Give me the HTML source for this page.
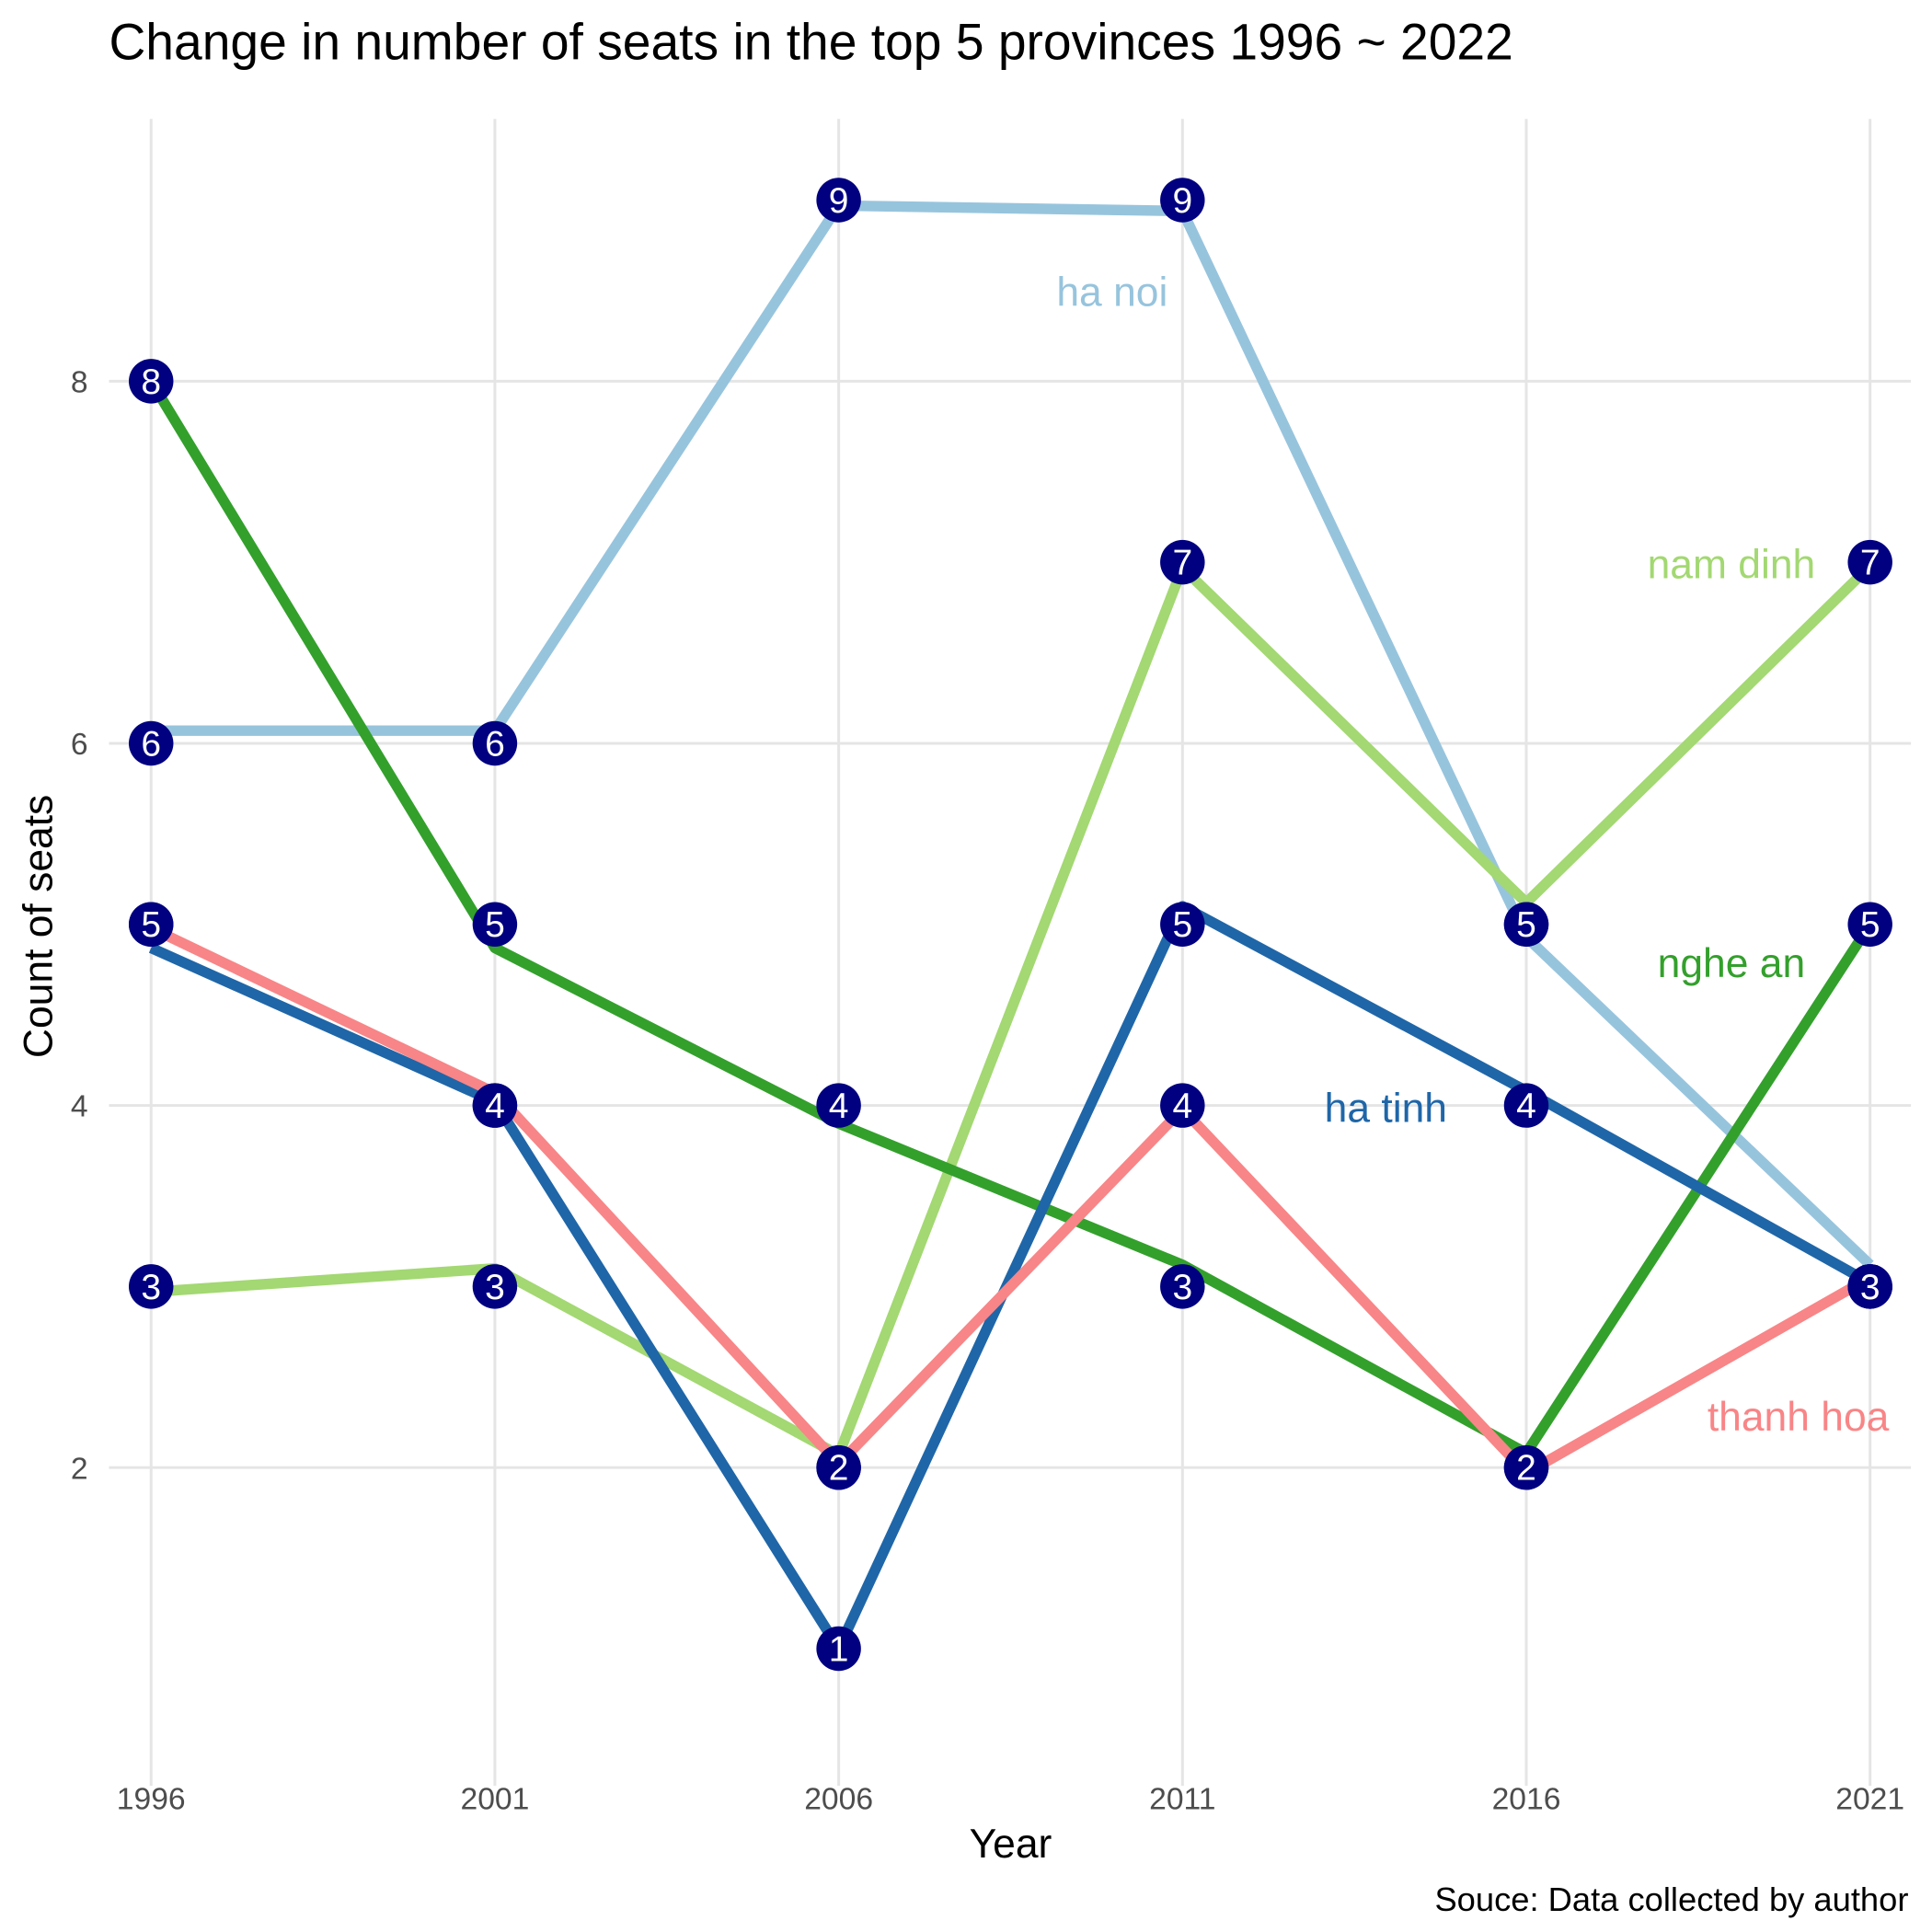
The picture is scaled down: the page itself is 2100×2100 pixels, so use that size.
<!DOCTYPE html>
<html><head><meta charset="utf-8"><style>
html,body{margin:0;padding:0;background:#fff;}
svg{display:block;font-family:"Liberation Sans",Arial,sans-serif;}
</style></head><body>
<svg id="chart" width="2100" height="2100" viewBox="0 0 1560 1560" xmlns="http://www.w3.org/2000/svg">
<rect width="1560" height="1560" fill="#fff"/>
<text x="88" y="48" font-size="41" fill="#000">Change in number of seats in the top 5 provinces 1996 ~ 2022</text>
<g id="grid"></g>
<g id="lines"></g>
<g id="points"></g>
<g id="labels"></g>
<text transform="translate(42,748) rotate(-90)" text-anchor="middle" font-size="33" fill="#000">Count of seats</text>
<text x="816" y="1500" text-anchor="middle" font-size="33" fill="#000">Year</text>
<text x="1541" y="1543" text-anchor="end" font-size="27" fill="#000">Souce: Data collected by author</text>
</svg>
<script>
const years=[1996,2001,2006,2011,2016,2021];
const yTicks=[2,4,6,8];
const seriesNames=["ha noi","nam dinh","nghe an","ha tinh","thanh hoa"];
const haNoi=[6,6,9,9,5,3];
const namDinh=[3,3,2,7,5,7];
const ngheAn=[8,5,4,3,2,5];
const haTinh=[5,4,1,5,4,3];
const thanhHoa=[5,4,2,4,2,3];
// jittered line positions as drawn
const haNoiLine=[6.07,6.07,8.97,8.94,4.93,3.12];
const namDinhLine=[2.97,3.1,2.07,6.97,5.12,6.98];
const ngheAnLine=[8,4.87,3.9,3.12,2.08,5];
const haTinhLine=[4.87,4.02,1.0,5.1,4.08,3.02];
const thanhHoaLine=[4.98,4.07,2.02,3.98,1.97,3.05];

const NS="http://www.w3.org/2000/svg";
const xS=y=>122+(y-1996)/5*277.6;
const yS=v=>1185-(v-2)*146.2;
function mk(t,a,p){const e=document.createElementNS(NS,t);for(const k in a)e.setAttribute(k,a[k]);p.appendChild(e);return e;}
const grid=document.getElementById('grid');
yTicks.forEach(v=>{
  const l=mk('line',{x1:88,x2:1543,y1:yS(v),y2:yS(v),stroke:'#e5e5e5','stroke-width':2.2},grid);
  
  
  const t=mk('text',{x:71,y:yS(v)+9,'text-anchor':'end','font-size':25,fill:'#4d4d4d'},grid);
  t.textContent=v;
  
  
});
years.forEach(y=>{
  const l=mk('line',{x1:xS(y),x2:xS(y),y1:96,y2:1442,stroke:'#e5e5e5','stroke-width':2.2},grid);
  
  
  const t=mk('text',{x:xS(y),y:1461,'text-anchor':'middle','font-size':25,fill:'#4d4d4d'},grid);
  t.textContent=y;
  
  
});
const series=[
 {name:'ha-noi',vals:haNoi,line:haNoiLine,color:'#97c4dd',label:[898,247]},
 {name:'nam-dinh',vals:namDinh,line:namDinhLine,color:'#a3d872',label:[1398,467]},
 {name:'nghe-an',vals:ngheAn,line:ngheAnLine,color:'#33a02c',label:[1398,789]},
 {name:'ha-tinh',vals:haTinh,line:haTinhLine,color:'#1f66a8',label:[1119,906]},
 {name:'thanh-hoa',vals:thanhHoa,line:thanhHoaLine,color:'#f88587',label:[1452,1155]}
];
const lg=document.getElementById('lines'),pg=document.getElementById('points'),lb=document.getElementById('labels');
series.forEach((s,i)=>{
  const pl=mk('polyline',{points:s.line.map((v,j)=>xS(years[j])+','+yS(v)).join(' '),fill:'none',stroke:s.color,'stroke-width':8.5,'stroke-linejoin':'round'},lg);
  
  
  const t=mk('text',{x:s.label[0],y:s.label[1],'text-anchor':'middle','font-size':33,fill:s.color},lb);
  t.textContent=seriesNames[i];
  
  
});
series.forEach(s=>{
  s.vals.forEach((v,j)=>{
    const c=mk('circle',{cx:xS(years[j]),cy:yS(v),r:18,fill:'#000080'},pg);
    
    
    const t=mk('text',{x:xS(years[j]),y:yS(v)+10,'text-anchor':'middle','font-size':29,fill:'#fff'},pg);
    t.textContent=v;
    
    
  });
});
</script>
</body></html>
